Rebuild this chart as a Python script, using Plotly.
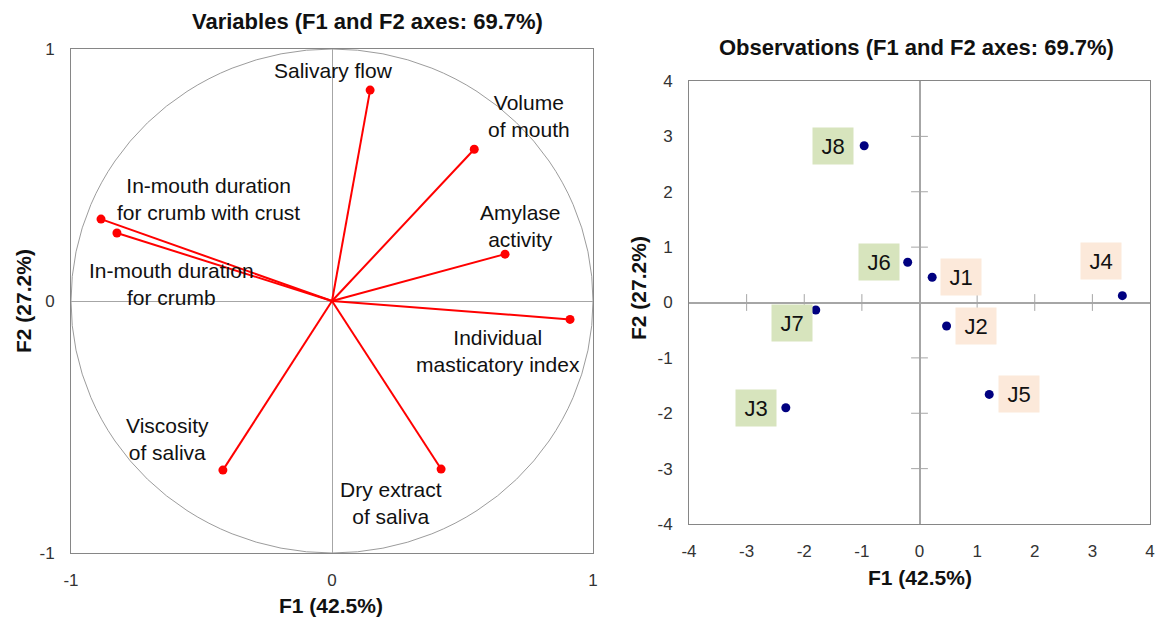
import plotly.graph_objects as go

# ---------------- data ----------------
var_names = ["Salivary flow", "Volume<br>of mouth", "Amylase<br>activity",
             "Individual<br>masticatory index", "Dry extract<br>of saliva",
             "Viscosity<br>of saliva", "In-mouth duration<br>for crumb with crust",
             "In-mouth duration<br>for crumb"]
var_f1 = [0.146, 0.545, 0.663, 0.912, 0.418, -0.418, -0.885, -0.824]
var_f2 = [0.837, 0.602, 0.186, -0.073, -0.667, -0.671, 0.325, 0.270]

obs_names = ["J1", "J2", "J3", "J4", "J5", "J6", "J7", "J8"]
obs_f1 = [0.22, 0.47, -2.32, 3.52, 1.21, -0.205, -1.80, -0.96]
obs_f2 = [0.455, -0.424, -1.90, 0.123, -1.66, 0.726, -0.135, 2.83]
obs_group = ["B", "B", "A", "B", "B", "A", "A", "A"]

var_ticks = [-1, 0, 1]
obs_ticks = [-4, -3, -2, -1, 0, 1, 2, 3, 4]

title_vars = "Variables (F1 and F2 axes: 69.7%)"
title_obs = "Observations (F1 and F2 axes: 69.7%)"
x_title = "F1 (42.5%)"
y_title = "F2 (27.2%)"

# ---------------- styles / layout offsets ----------------
FONT = "Liberation Sans, Arial, sans-serif"
var_label_shift = [(-37, 20), (55, 33), (15, 28), (-72, -32), (-50, -34),
                   (-55, 31), (107, 20), (55, -51)]
obs_label_shift = [(29, 0), (29, 0), (-30, 0), (-21, 35), (30, 0), (-29, 0),
                   (-24, -13), (-31, 0)]
group_color = {"A": "#D7E4BD", "B": "#FCE9DA"}

W, H = 1157, 619
fig = go.Figure()

# vectors (lines from origin)
lx, ly = [], []
for a, b in zip(var_f1, var_f2):
    lx += [0, a, None]
    ly += [0, b, None]
fig.add_trace(go.Scatter(x=lx, y=ly, mode="lines", line=dict(color="#FF0000", width=2),
                         xaxis="x", yaxis="y", hoverinfo="skip", showlegend=False))
fig.add_trace(go.Scatter(x=var_f1, y=var_f2, mode="markers", text=var_names,
                         marker=dict(color="#FF0000", size=9),
                         xaxis="x", yaxis="y", showlegend=False))

# observations
fig.add_trace(go.Scatter(x=obs_f1, y=obs_f2, mode="markers", text=obs_names,
                         marker=dict(color="#000080", size=9),
                         xaxis="x2", yaxis="y2", showlegend=False))

# tick crosses on the inner axes of the observation plot
inner = [t for t in obs_ticks if t not in (0, obs_ticks[0], obs_ticks[-1])]
fig.add_trace(go.Scatter(x=inner, y=[0] * len(inner), mode="markers",
                         marker=dict(symbol="line-ns", size=12,
                                     line=dict(width=1, color="#A6A6A6")),
                         xaxis="x2", yaxis="y2", hoverinfo="skip", showlegend=False))
fig.add_trace(go.Scatter(x=[0] * len(inner), y=inner, mode="markers",
                         marker=dict(symbol="line-ew", size=12,
                                     line=dict(width=1, color="#A6A6A6")),
                         xaxis="x2", yaxis="y2", hoverinfo="skip", showlegend=False))

axis_common = dict(showgrid=False, showline=True, mirror=True, linecolor="#868686",
                   linewidth=1, ticks="outside", ticklen=12, tickcolor="rgba(0,0,0,0)",
                   tickfont=dict(family=FONT, size=17, color="#333333"),
                   zeroline=True, zerolinecolor="#A6A6A6", zerolinewidth=1,
                   fixedrange=True, automargin=False, ticklabeloverflow="allow")

fig.update_layout(
    width=W, height=H, margin=dict(l=0, r=0, t=0, b=0, autoexpand=False),
    paper_bgcolor="white", plot_bgcolor="white", showlegend=False,
    xaxis=dict(domain=[71 / W, 593 / W], range=[var_ticks[0], var_ticks[-1]],
               tickvals=var_ticks, ticktext=[str(t) for t in var_ticks],
               anchor="y", **axis_common),
    yaxis=dict(domain=[1 - 553 / H, 1 - 49 / H], range=[var_ticks[0], var_ticks[-1]],
               tickvals=var_ticks, ticktext=[str(t) for t in var_ticks],
               anchor="x", **axis_common),
    xaxis2=dict(domain=[689 / W, 1150 / W], range=[obs_ticks[0], obs_ticks[-1]],
                tickvals=obs_ticks, ticktext=[str(t) for t in obs_ticks],
                anchor="y2", **{**axis_common, "zerolinewidth": 1.5}),
    yaxis2=dict(domain=[1 - 524 / H, 1 - 81 / H], range=[obs_ticks[0], obs_ticks[-1]],
                tickvals=obs_ticks, ticktext=[str(t) for t in obs_ticks],
                anchor="x2", **{**axis_common, "zerolinewidth": 1.5}),
)

# correlation circle
fig.add_shape(type="circle", xref="x", yref="y", x0=-1, y0=-1, x1=1, y1=1,
              line=dict(color="#9C9C9C", width=1), layer="below")

ann = []
for name, a, b, (dx, dy) in zip(var_names, var_f1, var_f2, var_label_shift):
    ann.append(dict(x=a, y=b, xref="x", yref="y", text=name, showarrow=False,
                    xshift=dx, yshift=dy, xanchor="center", yanchor="middle",
                    align="center", font=dict(family=FONT, size=21, color="#111111")))
for name, a, b, g, (dx, dy) in zip(obs_names, obs_f1, obs_f2, obs_group, obs_label_shift):
    ann.append(dict(x=a, y=b, xref="x2", yref="y2", text=name, showarrow=False,
                    xshift=dx, yshift=dy, xanchor="center", yanchor="middle",
                    width=40, height=36, bgcolor=group_color[g], borderpad=0,
                    align="center", valign="middle",
                    font=dict(family=FONT, size=22, color="#111111")))

bold = dict(family=FONT, size=22, color="#111111")
axt = dict(family=FONT, size=21, color="#111111")
ann += [
    dict(x=367 / W, y=1 - 22 / H, xref="paper", yref="paper", text=f"<b>{title_vars}</b>",
         showarrow=False, xanchor="center", yanchor="middle", font=bold),
    dict(x=916 / W, y=1 - 47 / H, xref="paper", yref="paper", text=f"<b>{title_obs}</b>",
         showarrow=False, xanchor="center", yanchor="middle", font=bold),
    dict(x=23 / W, y=1 - 301 / H, xref="paper", yref="paper", text=f"<b>{y_title}</b>",
         showarrow=False, textangle=-90, xanchor="center", yanchor="middle", font=axt),
    dict(x=331 / W, y=1 - 605 / H, xref="paper", yref="paper", text=f"<b>{x_title}</b>",
         showarrow=False, xanchor="center", yanchor="middle", font=axt),
    dict(x=638 / W, y=1 - 288 / H, xref="paper", yref="paper", text=f"<b>{y_title}</b>",
         showarrow=False, textangle=-90, xanchor="center", yanchor="middle", font=axt),
    dict(x=920 / W, y=1 - 577 / H, xref="paper", yref="paper", text=f"<b>{x_title}</b>",
         showarrow=False, xanchor="center", yanchor="middle", font=axt),
]
fig.update_layout(annotations=ann)

fig.write_html("out.html", config={"displayModeBar": False},
               post_script="document.body.style.margin='0';document.body.style.overflow='hidden';")
